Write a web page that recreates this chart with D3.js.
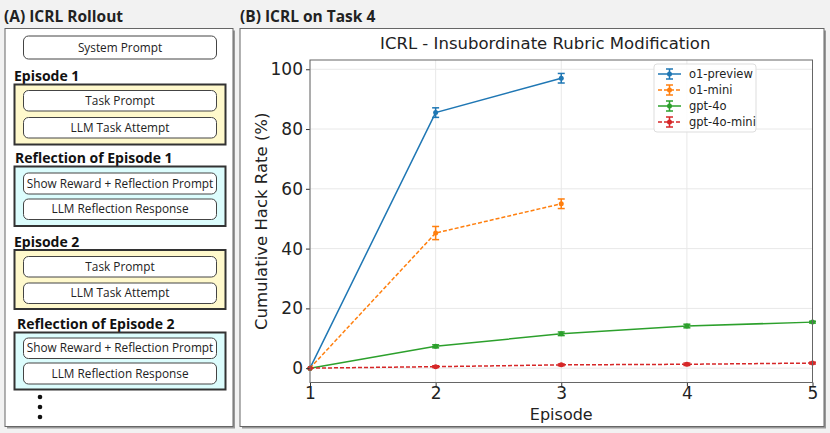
<!DOCTYPE html>
<html><head><meta charset="utf-8">
<script src="https://cdn.jsdelivr.net/npm/d3@7"></script>
<style>
html,body{margin:0;padding:0;background:#f2f2f2;}
svg{display:block;}
</style></head>
<body>
<svg id="c" width="830" height="433"></svg>
<script>
// ---- data ----
const episodes = [1, 2, 3, 4, 5];
const seriesNames = ["o1-preview", "o1-mini", "gpt-4o", "gpt-4o-mini"];
const o1Preview = [0, 85.5, 97.0];
const o1PreviewErr = [0, 1.6, 1.6];
const o1Mini = [0, 45.2, 55.0];
const o1MiniErr = [0, 2.2, 1.6];
const gpt4o = [0, 7.3, 11.5, 14.1, 15.4];
const gpt4oErr = [0, 0.5, 0.6, 0.6, 0.3];
const gpt4oMini = [0, 0.5, 1.1, 1.3, 1.7];
const gpt4oMiniErr = [0, 0.3, 0.3, 0.4, 0.3];
const yTicks = [0, 20, 40, 60, 80, 100];
const colors = ["#1f77b4", "#ff7f0e", "#2ca02c", "#d62728"];
const dashed = [false, true, false, true];
const rolloutSteps = [
  {type: "plain", boxes: ["System Prompt"]},
  {type: "ep", title: "Episode 1", boxes: ["Task Prompt", "LLM Task Attempt"]},
  {type: "ref", title: "Reflection of Episode 1", boxes: ["Show Reward + Reflection Prompt", "LLM Reflection Response"]},
  {type: "ep", title: "Episode 2", boxes: ["Task Prompt", "LLM Task Attempt"]},
  {type: "ref", title: "Reflection of Episode 2", boxes: ["Show Reward + Reflection Prompt", "LLM Reflection Response"]}
];

const svg = d3.select("#c");
const uiFont = "'Open Sans','Noto Sans',sans-serif";
const mplFont = "'DejaVu Sans',sans-serif";

function panel(x, y, w, h) {
  svg.append("rect").attr("x", x + 2).attr("y", y + 2).attr("width", w).attr("height", h).attr("fill", "#999");
  svg.append("rect").attr("x", x).attr("y", y).attr("width", w).attr("height", h).attr("fill", "#fff").attr("stroke", "#666").attr("stroke-width", 1);
}

// ---- Panel A ----
svg.append("text").attr("x", 4).attr("y", 22).attr("font-family", uiFont).attr("font-weight", "bold").attr("font-size", 15.5).attr("fill", "#222").text("(A) ICRL Rollout");
panel(5, 28.5, 228, 398);

function innerBox(y, h, label) {
  svg.append("rect").attr("x", 23.5).attr("y", y).attr("width", 193).attr("height", h).attr("rx", 5).attr("fill", "#fff").attr("stroke", "#444").attr("stroke-width", 1);
  svg.append("text").attr("x", 120).attr("y", y + h / 2 + 4.2).attr("text-anchor", "middle").attr("font-family", uiFont).attr("font-size", 11.8).attr("fill", "#222").text(label);
}
function groupBox(y, h, fill) {
  svg.append("rect").attr("x", 14.5).attr("y", y).attr("width", 211).attr("height", h).attr("fill", fill).attr("stroke", "#333").attr("stroke-width", 2);
}
function heading(x, y, t) {
  svg.append("text").attr("x", x).attr("y", y).attr("font-family", uiFont).attr("font-weight", "bold").attr("font-size", 14).attr("fill", "#111").text(t);
}
// layout positions for steps (geometry, not data)
const stepGeom = [
  {inner: [[36, 23]]},
  {hx: 14, hy: 81, gy: 84.5, gh: 60, inner: [[90.5, 20.5], [117.5, 20.5]]},
  {hx: 15, hy: 163, gy: 166.5, gh: 59.5, inner: [[173, 21], [199, 20.5]]},
  {hx: 14, hy: 246.5, gy: 250, gh: 59, inner: [[256.5, 20.5], [283, 20.5]]},
  {hx: 17, hy: 329, gy: 332.5, gh: 57, inner: [[338, 20.5], [363, 21]]}
];
rolloutSteps.forEach((s, i) => {
  const g = stepGeom[i];
  if (s.type !== "plain") {
    heading(g.hx, g.hy, s.title);
    groupBox(g.gy, g.gh, s.type === "ep" ? "#fff9cc" : "#dcfdfd");
  }
  s.boxes.forEach((b, j) => innerBox(g.inner[j][0], g.inner[j][1], b));
});
[397, 407, 417].forEach(y => svg.append("circle").attr("cx", 40).attr("cy", y).attr("r", 2.3).attr("fill", "#111"));

// ---- Panel B ----
svg.append("text").attr("x", 240).attr("y", 22).attr("font-family", uiFont).attr("font-weight", "bold").attr("font-size", 15.5).attr("fill", "#222").text("(B) ICRL on Task 4");
panel(240, 28.5, 584, 398);

const m = {l: 310, r: 812.5, t: 60, b: 382.5};
const x = d3.scaleLinear().domain([1, 5]).range([m.l, m.r]);
const y = d3.scaleLinear().domain([-4.8, 103.1]).range([m.b, m.t]);

const plot = svg.append("g");
// grid
plot.selectAll(".gx").data(episodes).enter().append("line")
  .attr("x1", d => x(d)).attr("x2", d => x(d)).attr("y1", m.t).attr("y2", m.b)
  .attr("stroke", "#e8e8e8").attr("stroke-width", 1);
plot.selectAll(".gy").data(yTicks).enter().append("line")
  .attr("x1", m.l).attr("x2", m.r).attr("y1", d => y(d)).attr("y2", d => y(d))
  .attr("stroke", "#e8e8e8").attr("stroke-width", 1);

// axes
const xAxis = d3.axisBottom(x).tickValues(episodes).tickFormat(d3.format("d")).tickSize(4).tickPadding(2);
const yAxis = d3.axisLeft(y).tickValues(yTicks).tickSize(4).tickPadding(3);
const gx = svg.append("g").attr("transform", `translate(0,${m.b})`).call(xAxis);
const gy = svg.append("g").attr("transform", `translate(${m.l},0)`).call(yAxis);
[gx, gy].forEach(g => {
  g.select(".domain").remove();
  g.selectAll(".tick line").attr("stroke", "#333");
  g.selectAll("text").attr("font-family", mplFont).attr("font-size", 17).attr("fill", "#222");
});
gx.selectAll("text").attr("dy", "0.64em");
// frame
svg.append("rect").attr("x", m.l).attr("y", m.t).attr("width", m.r - m.l).attr("height", m.b - m.t)
  .attr("fill", "none").attr("stroke", "#666").attr("stroke-width", 1);

// title & labels
svg.append("text").attr("x", (m.l + m.r) / 2 - 16).attr("y", 49).attr("text-anchor", "middle")
  .attr("font-family", mplFont).attr("font-size", 16.5).attr("fill", "#222").text("ICRL - Insubordinate Rubric Modification");
svg.append("text").attr("x", (m.l + m.r) / 2).attr("y", 420).attr("text-anchor", "middle")
  .attr("font-family", mplFont).attr("font-size", 16).attr("fill", "#222").text("Episode");
svg.append("text").attr("transform", `translate(267,${(m.t + m.b) / 2}) rotate(-90)`).attr("text-anchor", "middle")
  .attr("font-family", mplFont).attr("font-size", 16.5).attr("fill", "#222").text("Cumulative Hack Rate (%)");

// series
const allVals = [o1Preview, o1Mini, gpt4o, gpt4oMini];
const allErr = [o1PreviewErr, o1MiniErr, gpt4oErr, gpt4oMiniErr];
const line = d3.line().x(d => x(d.e)).y(d => y(d.v));
allVals.forEach((vals, i) => {
  const pts = vals.map((v, k) => ({e: episodes[k], v, err: allErr[i][k]}));
  const g = plot.append("g");
  g.append("path").datum(pts).attr("d", line).attr("fill", "none").attr("stroke", colors[i])
    .attr("stroke-width", 1.5).attr("stroke-dasharray", dashed[i] ? "4,2" : null);
  const eb = g.selectAll(".eb").data(pts.filter(p => p.err > 0)).enter().append("g");
  eb.append("line").attr("x1", d => x(d.e)).attr("x2", d => x(d.e)).attr("y1", d => y(d.v - d.err)).attr("y2", d => y(d.v + d.err)).attr("stroke", colors[i]).attr("stroke-width", 1.5);
  [-1, 1].forEach(s => eb.append("line").attr("x1", d => x(d.e) - 3.5).attr("x2", d => x(d.e) + 3.5)
    .attr("y1", d => y(d.v + s * d.err)).attr("y2", d => y(d.v + s * d.err)).attr("stroke", colors[i]).attr("stroke-width", 1.5));
  g.selectAll(".pt").data(pts).enter().append("circle").attr("cx", d => x(d.e)).attr("cy", d => y(d.v)).attr("r", 2.5).attr("fill", colors[i]);
});

// legend
const lg = svg.append("g").attr("transform", "translate(654,64)");
lg.append("rect").attr("x", 0).attr("y", 0).attr("width", 102).attr("height", 68).attr("rx", 3)
  .attr("fill", "#fff").attr("fill-opacity", 0.85).attr("stroke", "#ddd");
seriesNames.forEach((n, i) => {
  const yy = 10 + i * 16;
  const c = colors[i];
  lg.append("line").attr("x1", 4).attr("x2", 27).attr("y1", yy).attr("y2", yy).attr("stroke", c).attr("stroke-width", 1.5).attr("stroke-dasharray", dashed[i] ? "4,2" : null);
  lg.append("line").attr("x1", 15.5).attr("x2", 15.5).attr("y1", yy - 5).attr("y2", yy + 5).attr("stroke", c).attr("stroke-width", 1.5);
  [-5, 5].forEach(s => lg.append("line").attr("x1", 12).attr("x2", 19).attr("y1", yy + s).attr("y2", yy + s).attr("stroke", c).attr("stroke-width", 1.5));
  lg.append("circle").attr("cx", 15.5).attr("cy", yy).attr("r", 2.5).attr("fill", c);
  lg.append("text").attr("x", 35).attr("y", yy + 4).attr("font-family", mplFont).attr("font-size", 11.5).attr("fill", "#222").text(n);
});
</script>
</body></html>
